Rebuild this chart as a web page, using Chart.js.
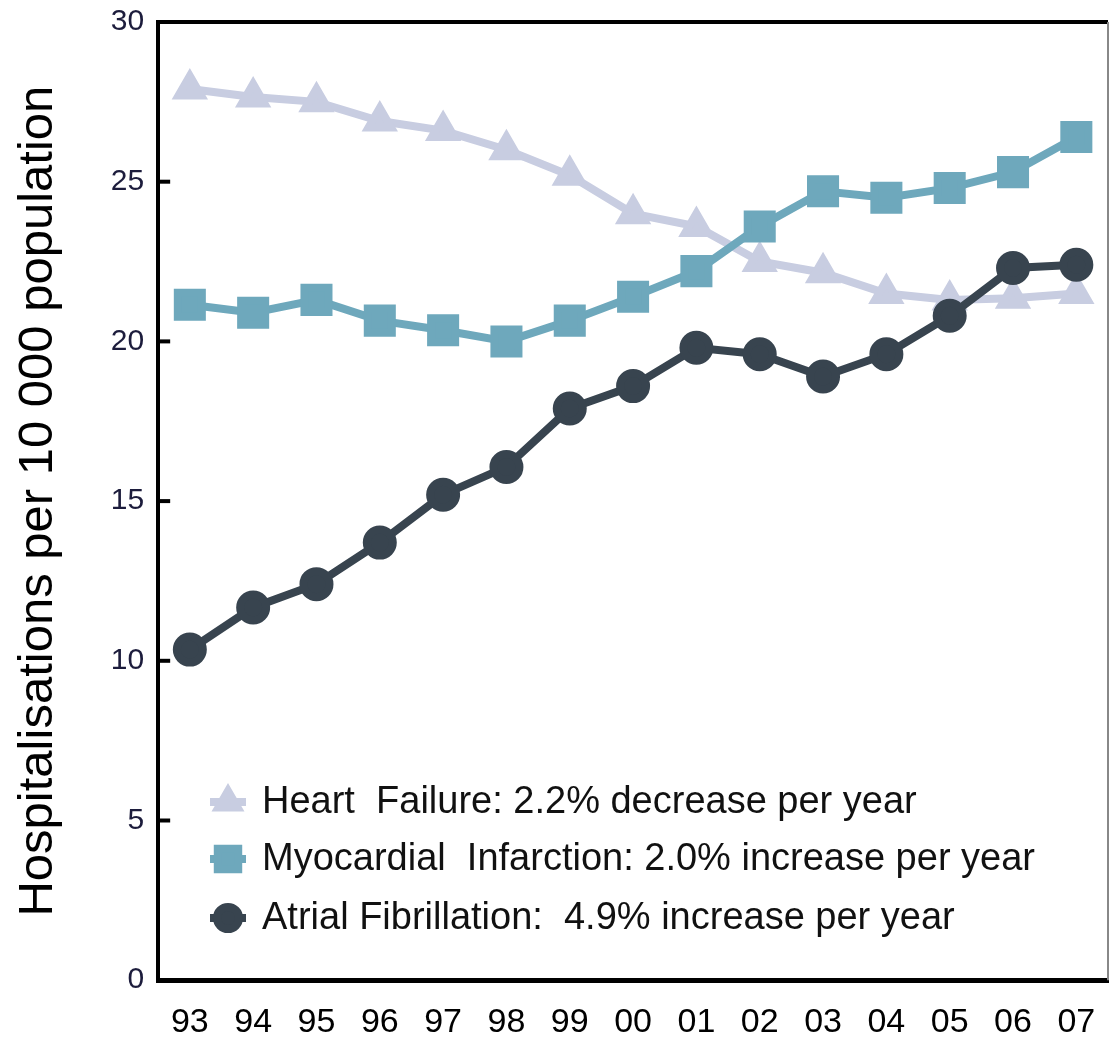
<!DOCTYPE html>
<html lang="en">
<head>
    <meta charset="UTF-8">
    <title>Hospitalisations per 10 000 population</title>
    <script src="https://cdn.jsdelivr.net/npm/chart.js@4.4.0/dist/chart.umd.min.js"></script>
    <style>
        html, body { margin: 0; padding: 0; background: #fff; overflow: hidden; }
        canvas { display: block; }
    </style>
</head>
<body>
    <canvas id="chart" width="1111" height="1046"></canvas>
    <script>
        const years = ['93','94','95','96','97','98','99','00','01','02','03','04','05','06','07'];
        const heartFailure = [27.9, 27.65, 27.5, 26.9, 26.6, 26.0, 25.2, 24.0, 23.6, 22.5, 22.15, 21.5, 21.3, 21.35, 21.5];
        const myocardial = [21.15, 20.9, 21.3, 20.65, 20.35, 20.0, 20.65, 21.4, 22.2, 23.6, 24.7, 24.5, 24.8, 25.3, 26.4];
        const atrialFib = [10.35, 11.67, 12.4, 13.7, 15.2, 16.07, 17.9, 18.6, 19.8, 19.6, 18.9, 19.6, 20.8, 22.3, 22.4];
        const yTicks = [0, 5, 10, 15, 20, 25, 30];

        const FONT = '"Liberation Sans", Arial, sans-serif';

        // frame, inward ticks and the legend inside the plot
        const extras = {
            id: 'extras',
            afterDraw(chart) {
                const ctx = chart.ctx;
                const a = chart.chartArea;
                const y = chart.scales.y;
                ctx.save();
                ctx.strokeStyle = '#000';
                ctx.lineWidth = 4;
                ctx.beginPath();
                ctx.moveTo(a.left - 2, a.top);
                ctx.lineTo(a.right, a.top);
                ctx.stroke();
                ctx.strokeStyle = '#888';
                ctx.lineWidth = 2;
                ctx.beginPath();
                ctx.moveTo(a.right, a.top);
                ctx.lineTo(a.right, a.bottom);
                ctx.stroke();
                ctx.strokeStyle = '#000';
                ctx.lineWidth = 4;
                yTicks.forEach(v => {
                    const py = y.getPixelForValue(v);
                    ctx.beginPath();
                    ctx.moveTo(a.left, py);
                    ctx.lineTo(a.left + 12, py);
                    ctx.stroke();
                });

                const rows = [802, 859, 918];
                ctx.font = '38px ' + FONT;
                ctx.textBaseline = 'middle';
                chart.data.datasets.forEach((ds, i) => {
                    const ry = rows[i];
                    const mx = 228;
                    ctx.strokeStyle = ds.borderColor;
                    ctx.lineWidth = 8;
                    ctx.beginPath();
                    ctx.moveTo(mx - 18, ry);
                    ctx.lineTo(mx + 18, ry);
                    ctx.stroke();
                    ctx.fillStyle = ds.borderColor;
                    Chart.helpers.drawPoint(ctx, {
                        pointStyle: ds.pointStyle, rotation: 0, borderWidth: 1, radius: ds.pointRadius * 0.85
                    }, mx, ry);
                    ctx.fillStyle = '#111';
                    ctx.fillText(ds.label, 262, ry + 1);
                });
                ctx.restore();
            }
        };

        // drop the label overhang padding so the plot fills the frame like the original
        function noOverhang(scale) {
            scale.paddingLeft = 0;
            scale.paddingRight = 0;
            scale.paddingTop = 0;
            scale.paddingBottom = 0;
        }

        const ctx = document.getElementById('chart').getContext('2d');
        new Chart(ctx, {
            type: 'line',
            data: {
                labels: years,
                datasets: [
                    {
                        label: 'Heart  Failure: 2.2% decrease per year',
                        data: heartFailure,
                        borderColor: '#c8cde1',
                        backgroundColor: '#c8cde1',
                        borderWidth: 8,
                        pointStyle: 'triangle',
                        pointRadius: 13,
                        order: 2
                    },
                    {
                        label: 'Myocardial  Infarction: 2.0% increase per year',
                        data: myocardial,
                        borderColor: '#6ea8bc',
                        backgroundColor: '#6ea8bc',
                        borderWidth: 8,
                        pointStyle: 'rect',
                        pointRadius: 17,
                        order: 1
                    },
                    {
                        label: 'Atrial Fibrillation:  4.9% increase per year',
                        data: atrialFib,
                        borderColor: '#38444f',
                        backgroundColor: '#38444f',
                        borderWidth: 8,
                        pointStyle: 'circle',
                        pointRadius: 13,
                        order: 0
                    }
                ]
            },
            options: {
                responsive: false,
                animation: false,
                layout: { autoPadding: false, padding: { top: 22, right: 3, left: 9, bottom: -19 } },
                plugins: {
                    legend: { display: false },
                    tooltip: { enabled: false }
                },
                elements: { line: { tension: 0 }, point: { borderWidth: 1 } },
                scales: {
                    x: {
                        offset: true,
                        afterFit: noOverhang,
                        grid: { display: false, drawTicks: false },
                        border: { color: '#000', width: 5 },
                        ticks: {
                            color: '#000',
                            padding: 22,
                            font: { family: FONT, size: 34 }
                        }
                    },
                    y: {
                        min: 0,
                        max: 30,
                        afterFit: noOverhang,
                        grid: { display: false, drawTicks: false },
                        border: { color: '#000', width: 4 },
                        ticks: {
                            stepSize: 5,
                            color: '#1c1c3c',
                            padding: 14,
                            font: { family: FONT, size: 30 }
                        },
                        title: {
                            display: true,
                            text: 'Hospitalisations per 10 000 population',
                            color: '#000',
                            padding: { top: 0, bottom: 29 },
                            font: { family: FONT, size: 49 }
                        }
                    }
                }
            },
            plugins: [extras]
        });
    </script>
</body>
</html>
